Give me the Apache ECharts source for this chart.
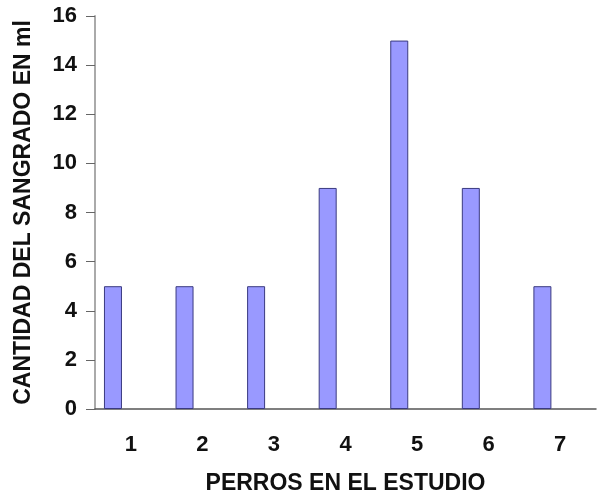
<!DOCTYPE html>
<html>
<head>
<meta charset="utf-8">
<script src="https://cdn.jsdelivr.net/npm/echarts@6/dist/echarts.min.js"></script>
<style>
  html, body { margin: 0; padding: 0; background: #fff; }
  #chart { width: 597px; height: 500px; }
</style>
</head>
<body>
<div id="chart"></div>
<script>
// perros del estudio
const perros = ["1", "2", "3", "4", "5", "6", "7"];
// sangrado en ml
const sangrado = [5, 5, 5, 9, 15, 9, 5];
// empty second series (Excel layout leaves a blank slot beside each bar)
const vacio = [null, null, null, null, null, null, null];

const font = "'Liberation Sans', Arial, sans-serif";

const chart = echarts.init(document.getElementById("chart"), null, {
  renderer: "canvas",
});

const option = {
  animation: false,
  backgroundColor: "#fff",
  grid: { left: 95, right: 1, top: 16, bottom: 88 },
  xAxis: {
    type: "category",
    data: perros,
    name: "PERROS EN EL ESTUDIO",
    nameLocation: "middle",
    nameGap: 63,
    nameTextStyle: {
      fontFamily: font,
      fontWeight: "bold",
      fontSize: 23,
      color: "#111",
    },
    axisLine: { lineStyle: { color: "#555", width: 1.5 } },
    axisTick: { length: 6, lineStyle: { color: "#555" } },
    axisLabel: {
      margin: 25,
      fontFamily: font,
      fontWeight: "bold",
      fontSize: 22,
      color: "#111",
    },
  },
  yAxis: {
    type: "value",
    min: 0,
    max: 16,
    interval: 2,
    name: "CANTIDAD DEL SANGRADO EN ml",
    nameLocation: "middle",
    nameGap: 60,
    nameTextStyle: {
      fontFamily: font,
      fontWeight: "bold",
      fontSize: 23,
      color: "#111",
    },
    axisLine: { show: true, lineStyle: { color: "#aaa", width: 2 } },
    axisTick: { show: true, length: 9, lineStyle: { color: "#666" } },
    splitLine: { show: false },
    axisLabel: {
      margin: 18,
      fontFamily: font,
      fontWeight: "bold",
      fontSize: 22,
      color: "#111",
    },
  },
  series: [
    {
      type: "bar",
      data: sangrado,
      barWidth: 18,
      barGap: "98%",
      itemStyle: { color: "#9999ff", borderColor: "#3a3a80", borderWidth: 1 },
    },
    {
      type: "bar",
      data: vacio,
      barWidth: 18,
    },
  ],
};

chart.setOption(option);
</script>
</body>
</html>
